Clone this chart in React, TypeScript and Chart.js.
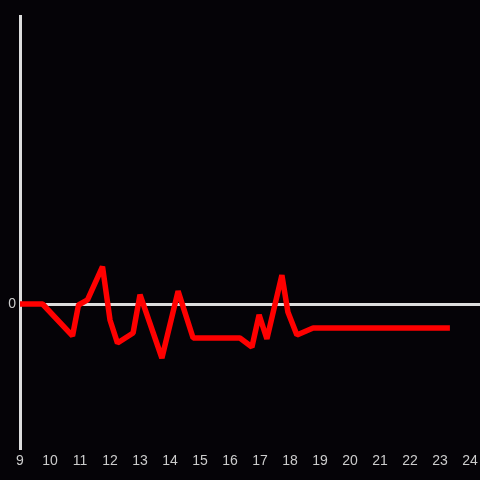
import React, { useEffect, useRef } from "react";
import { Chart, registerables } from "chart.js";

Chart.register(...registerables);

const times: number[] = [9.0, 9.75, 10.75, 10.95, 11.25, 11.75, 12.0, 12.25, 12.77, 13.0, 13.73, 14.27, 14.77, 16.17, 16.33, 16.73, 16.97, 17.23, 17.73, 17.93, 18.23, 18.77, 23.33];
const values: number[] = [0, 0, -0.222, -0.007, 0.028, 0.26, -0.111, -0.271, -0.201, 0.065, -0.375, 0.09, -0.236, -0.236, -0.236, -0.299, -0.076, -0.243, 0.2, -0.056, -0.215, -0.167, -0.167];
const xTickLabels: number[] = [9, 10, 11, 12, 13, 14, 15, 16, 17, 18, 19, 20, 21, 22, 23, 24];
const yTickLabels: number[] = [0];

const bgPlugin = {
  id: "bg",
  beforeDraw(chart: any) {
    const { ctx, width, height } = chart;
    ctx.save();
    ctx.fillStyle = "#050307";
    ctx.fillRect(0, 0, width, height);
    ctx.restore();
  },
};

export default function App() {
  const ref = useRef<HTMLCanvasElement | null>(null);
  useEffect(() => {
    document.body.style.margin = "0";
    document.body.style.background = "#050307";
    const canvas = ref.current!;
    const chart = new Chart(canvas, {
      type: "line",
      data: {
        datasets: [
          {
            data: times.map((t, i) => ({ x: t, y: values[i] })),
            borderColor: "#ff0000",
            borderWidth: 5.5,
            borderJoinStyle: "bevel",
            pointRadius: 0,
            tension: 0,
            fill: false,
          },
        ],
      },
      options: {
        responsive: false,
        animation: false,
        layout: { padding: { top: 16, right: 0, left: 0, bottom: 0 } },
        plugins: { legend: { display: false }, tooltip: { enabled: false } },
        scales: {
          x: {
            type: "linear",
            min: 9,
            max: 24 + 10 / 30,
            afterBuildTicks: (axis: any) => {
              axis.ticks = xTickLabels.map((v) => ({ value: v }));
            },
            afterFit: (axis: any) => {
              axis.height = 32;
              axis.paddingRight = 0;
              axis.paddingLeft = 0;
            },
            grid: { display: false, drawTicks: false },
            border: { display: false },
            ticks: {
              color: "#cccccc",
              padding: 5,
              maxRotation: 0,
              autoSkip: false,
              font: { size: 14, family: "'Liberation Sans', Arial, sans-serif" },
            },
          },
          y: {
            type: "linear",
            min: -1,
            max: 2,
            afterBuildTicks: (axis: any) => {
              axis.ticks = yTickLabels.map((v) => ({ value: v }));
            },
            afterFit: (axis: any) => {
              axis.width = 20;
              axis.paddingTop = 0;
              axis.paddingBottom = 0;
            },
            grid: { color: "#dddddd", lineWidth: 3, drawTicks: false },
            border: { display: true, color: "#dddddd", width: 3 },
            ticks: {
              color: "#cccccc",
              padding: 4,
              font: { size: 14, family: "'Liberation Sans', Arial, sans-serif" },
            },
          },
        },
      },
      plugins: [bgPlugin],
    } as any);
    return () => chart.destroy();
  }, []);
  return (
    <div style={{ width: 480, height: 480 }}>
      <canvas ref={ref} width={480} height={480} />
    </div>
  );
}
